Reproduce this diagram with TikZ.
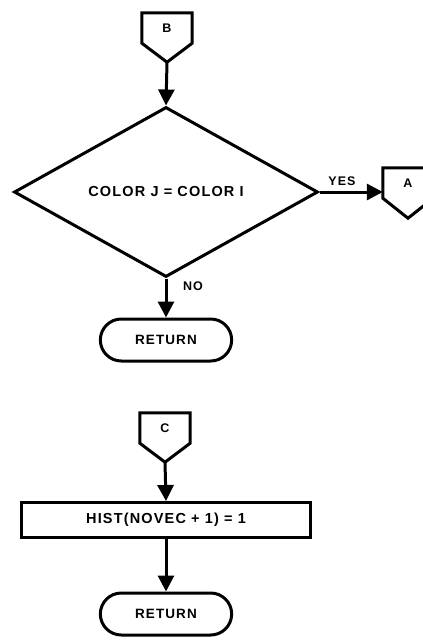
\documentclass[tikz,border=0pt]{standalone}
\usepackage{fontspec}
\setmainfont[LetterSpace=8]{Liberation Sans}
\usepackage{tikz}
\usetikzlibrary{positioning,shapes,arrows.meta,calc}
\tikzstyle{every node}=[font=\bfseries\fontsize{13.5}{15}\selectfont]
\tikzstyle{decision}=[diamond, draw, line width=3pt, minimum width=304pt,
  minimum height=170pt, inner sep=0pt, font=\bfseries\fontsize{14.5}{16}\selectfont]
\tikzstyle{terminal}=[rounded rectangle, draw, line width=3pt,
  minimum width=138pt, minimum height=42pt]
\tikzstyle{process}=[rectangle, draw, line width=3pt,
  minimum width=289pt, minimum height=35pt, font=\bfseries\fontsize{14.5}{16}\selectfont]
\tikzstyle{connector}=[rectangle, minimum width=50pt, minimum height=30pt,
  inner sep=0pt, font=\bfseries\fontsize{12.5}{14}\selectfont]
\tikzstyle{label}=[font=\bfseries\fontsize{12.5}{14}\selectfont]
\tikzstyle{line} = [draw, line width=3pt, -{Triangle[length=16pt,width=16pt]}]
\newcommand{\offpage}[2][19pt]{
\draw[line width=3pt] (#2.north west) -- (#2.north east) -- (#2.south east)
  -- ($(#2.south)+(0,-#1)$) coordinate (#2-tip) -- (#2.south west) -- cycle;
}

\begin{document}
\begin{tikzpicture}[x=1pt,y=-1pt]
    \useasboundingbox (0,0) rectangle (423,643);
    % upper part
    \node (B) [connector] at (167,28) {B};
    \offpage{B};
    \node (cond) [decision] at (166,192) {COLOR J = COLOR I};
    \path[line] (B-tip) -- (cond.north);
    \node (A) [connector] at (408,183) {A};
    \offpage[20pt]{A};
    \path[line] (cond.east) -- (cond.east -| A.west);
    \node (yes) [label] at (342,181) {YES};
    \node (no) [label] at (193,286) {NO};
    \node (ret1) [terminal] at (166,340) {RETURN};
    \path[line] (cond.south) -- (ret1.north);
    % lower part
    \node (C) [connector] at (165,428) {C};
    \offpage{C};
    \node (hist) [process] at (166,520) {HIST(NOVEC + 1) = 1};
    \path[line] (C-tip) -- (hist.north);
    \node (ret2) [terminal] at (166,614) {RETURN};
    \path[line] (hist.south) -- (ret2.north);
\end{tikzpicture}
\end{document}
